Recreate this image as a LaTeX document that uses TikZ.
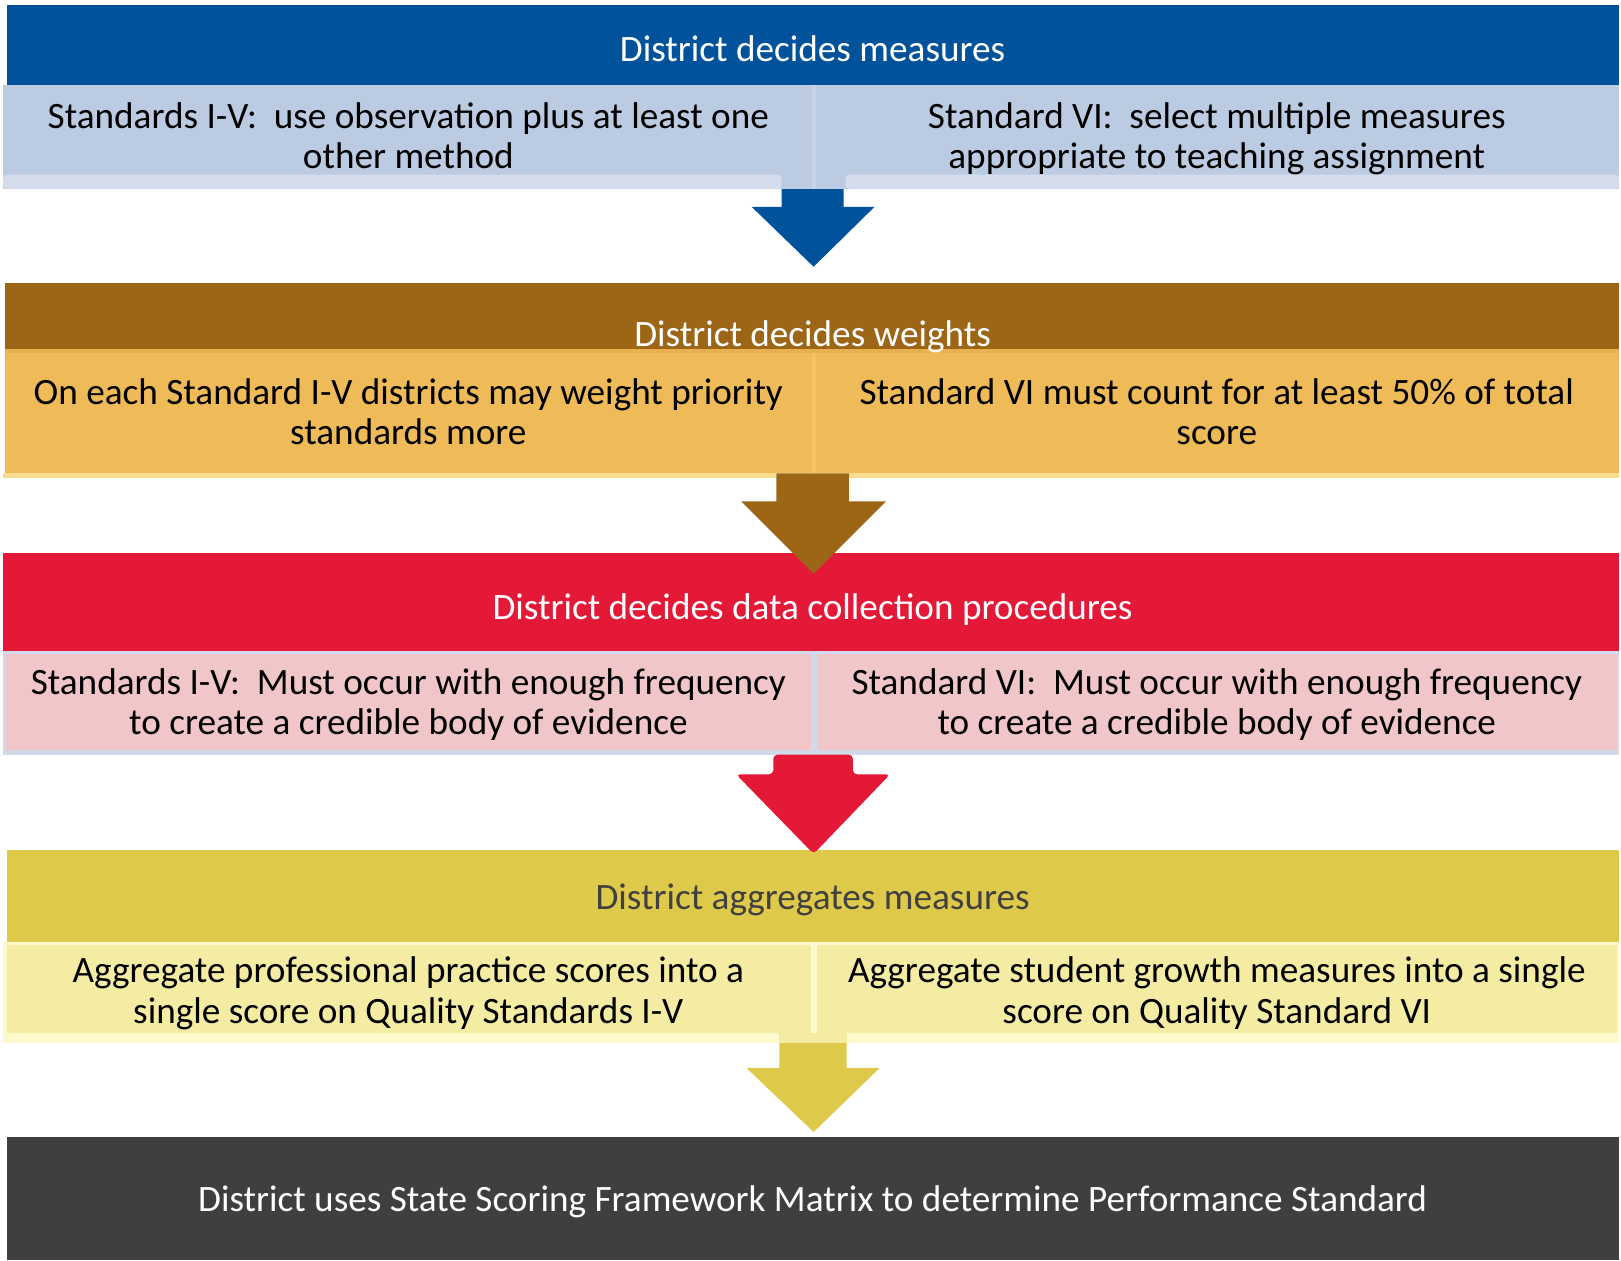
\documentclass[tikz,border=0pt]{standalone}
\usepackage{fontspec}
\setmainfont{Carlito}

\definecolor{hdrBlue}{RGB}{0,83,155}
\definecolor{subBlue}{RGB}{187,203,226}
\definecolor{stripBlue}{RGB}{213,220,236}
\definecolor{divBlue}{RGB}{201,212,232}
\definecolor{hdrBrown}{RGB}{157,101,22}
\definecolor{subOrange}{RGB}{239,186,88}
\definecolor{edgeOrange}{RGB}{232,176,78}
\definecolor{stripOrange}{RGB}{249,220,142}
\definecolor{divOrange}{RGB}{244,196,94}
\definecolor{hdrRed}{RGB}{227,25,55}
\definecolor{subPink}{RGB}{240,198,201}
\definecolor{linePink}{RGB}{210,217,232}
\definecolor{hdrYellow}{RGB}{222,201,74}
\definecolor{subYellow}{RGB}{245,236,164}
\definecolor{stripYellow}{RGB}{253,249,205}
\definecolor{hdrDark}{RGB}{63,63,63}
\definecolor{textDark}{RGB}{64,64,64}

% fixed-size line struts so every text block has the same box
\newcommand\linestrut{\rule[-5.85pt]{0pt}{19.5pt}}

\begin{document}
\frenchspacing
\begin{tikzpicture}[x=0.5pt,y=-0.5pt,
  txt/.style={font=\fontsize{18}{19.5}\selectfont, align=center, inner sep=0pt},
  hdrtxt/.style={txt, text=white},
]
\useasboundingbox (0,0) rectangle (1568,1219);
\fill[white] (0,0) rectangle (1568,1219);

% ---------- Step 1: measures ----------
\fill[hdrBlue] (7,5) rectangle (1566,82);
\fill[subBlue] (3,82) rectangle (785,183);
\fill[subBlue] (789,82) rectangle (1566,183);
\fill[divBlue] (785,82) rectangle (789,183);
\fill[stripBlue, rounded corners=2] (3,169) rectangle (756,183);
\fill[stripBlue, rounded corners=2] (818,169) rectangle (1566,183);
\fill[hdrBlue] (756,183) -- (756,200) -- (727,200) -- (787,258) -- (846,200) -- (816,200) -- (816,183) -- cycle;

\node[hdrtxt] (h1) at (786,51.5) {\linestrut District decides measures};
\node[txt] (s1l) at (395,136) {\linestrut Standards I-V:~ use observation plus at least one\\ other method\linestrut};
\node[txt] (s1r) at (1177,136) {\linestrut Standard VI:~ select multiple measures\\ appropriate to teaching assignment\linestrut};

% ---------- Step 2: weights ----------
\fill[hdrBrown] (5,274) rectangle (1566,338);
\fill[subOrange] (5,338) rectangle (785,458);
\fill[subOrange] (789,338) rectangle (1566,458);
\fill[divOrange] (785,338) rectangle (789,458);
\fill[edgeOrange] (5,338) rectangle (1566,341);
\fill[stripOrange] (3,458) rectangle (751,462);
\fill[stripOrange] (821,458) rectangle (1566,462);
\node[hdrtxt] (h2) at (786,327) {\linestrut District decides weights};
\node[txt] (s2l) at (395,403) {\linestrut On each Standard I-V districts may weight priority\\ standards more\linestrut};
\node[txt] (s2r) at (1177,403) {\linestrut Standard VI must count for at least 50\% of total\\ score\linestrut};

% ---------- Step 3: data collection ----------
\fill[hdrRed] (3,535) rectangle (1566,630);
\fill[hdrBrown] (751,458) -- (751,485) -- (717,485) -- (787,555) -- (857,485) -- (821,485) -- (821,458) -- cycle;
\fill[linePink] (3,630) rectangle (1566,730);
\fill[subPink] (6,633) rectangle (784,725);
\fill[subPink] (790,633) rectangle (1564,725);
\node[hdrtxt] (h3) at (786,591) {\linestrut District decides data collection procedures};
\node[txt] (s3l) at (395,683.5) {\linestrut Standards I-V:~ Must occur with enough frequency\\ to create a credible body of evidence\linestrut};
\node[txt] (s3r) at (1177,683.5) {\linestrut Standard VI:~ Must occur with enough frequency\\ to create a credible body of evidence\linestrut};

% ---------- Step 4: aggregation ----------
\fill[hdrYellow] (7,822) rectangle (1566,911);
\fill[hdrRed, rounded corners=2] (748,730) -- (748,749) -- (712,749) -- (787,826) -- (861,749) -- (825,749) -- (825,730) -- cycle;
\fill[stripYellow] (3,911) rectangle (1566,1009);
\fill[subYellow] (7,914) rectangle (784,999);
\fill[subYellow] (790,914) rectangle (1564,999);
\fill[subYellow] (754,999) rectangle (819,1009);
\fill[hdrYellow] (754,1009) -- (754,1033) -- (722,1033) -- (787,1095) -- (851,1033) -- (819,1033) -- (819,1009) -- cycle;
\node[txt, text=textDark] (h4) at (786,872) {\linestrut District aggregates measures};
\node[txt] (s4l) at (395,962.5) {\linestrut Aggregate professional practice scores into a\\ single score on Quality Standards I-V\linestrut};
\node[txt] (s4r) at (1177,962.5) {\linestrut Aggregate student growth measures into a single\\ score on Quality Standard VI\linestrut};

% ---------- Step 5: result ----------
\fill[hdrDark] (7,1100) rectangle (1566,1219);
\node[hdrtxt] (h5) at (786,1164) {\linestrut District uses State Scoring Framework Matrix to determine Performance Standard};
\end{tikzpicture}
\end{document}
